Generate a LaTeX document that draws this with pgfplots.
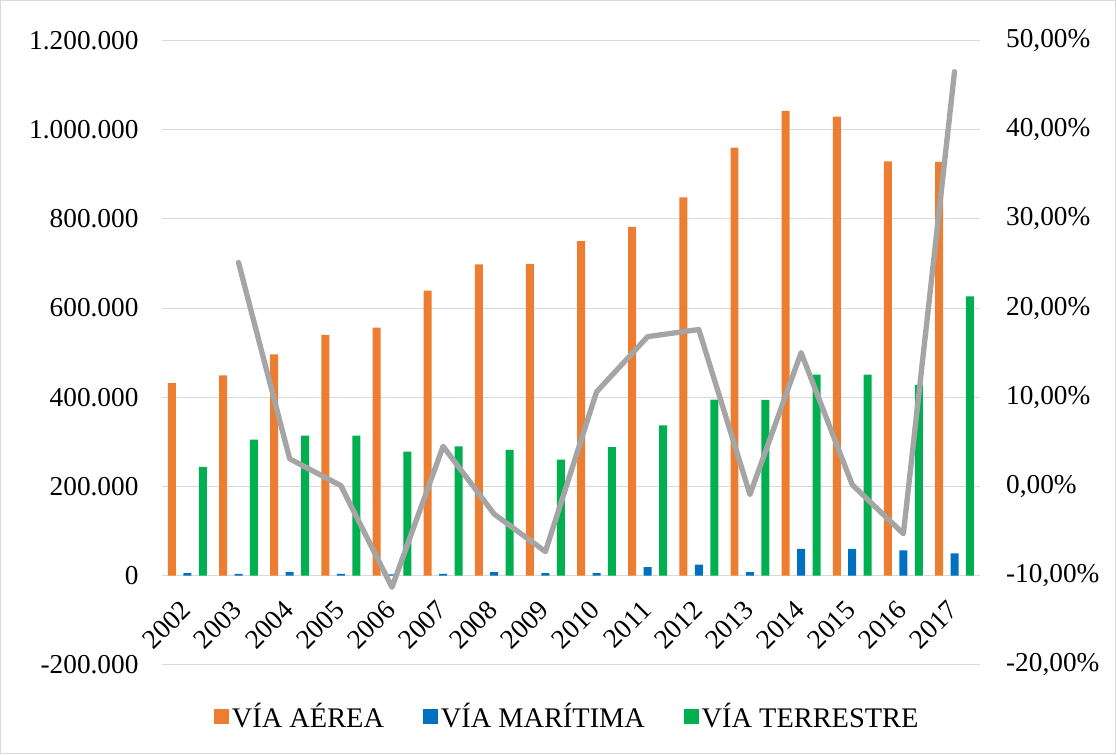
\documentclass[border=0pt]{standalone}
\usepackage{fontspec}
\setmainfont{Liberation Serif}
\usepackage{pgfplots}
\pgfplotsset{compat=1.18}

\definecolor{aerea}{HTML}{ED7D31}
\definecolor{maritima}{HTML}{0070C0}
\definecolor{terrestre}{HTML}{00B050}
\definecolor{tasa}{HTML}{A5A5A5}
\definecolor{rejilla}{HTML}{D9D9D9}

\newcommand{\fs}{\fontsize{20.5}{24}\selectfont}
\newcommand{\fl}{\fontsize{21.3}{25}\selectfont}

\begin{document}
\begin{tikzpicture}
\draw[rejilla, line width=0.75pt] (0,0) rectangle (837pt,565.5pt);

\begin{axis}[
    at={(121.1pt,66.75pt)}, anchor=south west,
    scale only axis, width=614.25pt, height=468.75pt,
    xmin=-0.5, xmax=15.5,
    ymin=-200000, ymax=1200000,
    axis x line=middle, axis y line=left,
    hide obscured x ticks=false, hide obscured y ticks=false,
    x axis line style={draw=rejilla, line width=0.75pt, -},
    y axis line style={draw=none},
    major tick length=0pt,
    xtick={0,...,15},
    xticklabels={2002,2003,2004,2005,2006,2007,2008,2009,2010,2011,2012,2013,2014,2015,2016,2017},
    xticklabel style={font=\fs, xshift=1.5pt, yshift=-20pt, rotate=45, anchor=east},
    ytick={-200000,0,200000,400000,600000,800000,1000000,1200000},
    scaled y ticks=false,
    /pgf/number format/assume math mode=true,
    yticklabel={\pgfmathprintnumber[fixed,precision=0,1000 sep={.}]{\tick}},
    yticklabel style={font=\fs, xshift=-14pt},
    ymajorgrids, grid style={rejilla, line width=0.75pt},
    legend columns=3,
    legend style={at={(0.5,-0.083)}, anchor=center, xshift=-2.6pt, draw=none, fill=none,
        font=\fl, /tikz/every even column/.append style={column sep=27pt}},
]
\addplot[ybar, bar width=6pt, bar shift=-11.6pt, fill=aerea, draw=none,
    legend image code/.code={\fill[aerea] (0pt,-5.8pt) rectangle (11.6pt,5.8pt);}]
    coordinates {(0,432000) (1,449000) (2,496000) (3,540000) (4,556000) (5,639000) (6,698000) (7,699000)
                 (8,750000) (9,782000) (10,848000) (11,960000) (12,1042000) (13,1029000) (14,929000) (15,928000)};
\addplot[ybar, bar width=6pt, bar shift=0pt, fill=maritima, draw=none,
    legend image code/.code={\fill[maritima] (0pt,-5.8pt) rectangle (11.6pt,5.8pt);}]
    coordinates {(0,6000) (1,4000) (2,8000) (3,4000) (4,3000) (5,4000) (6,8000) (7,6000)
                 (8,6000) (9,19000) (10,25000) (11,8000) (12,60000) (13,60000) (14,57000) (15,50000)};
\addplot[ybar, bar width=6pt, bar shift=11.6pt, fill=terrestre, draw=none,
    legend image code/.code={\fill[terrestre] (0pt,-5.8pt) rectangle (11.6pt,5.8pt);}]
    coordinates {(0,244000) (1,305000) (2,314000) (3,314000) (4,278000) (5,290000) (6,282000) (7,260000)
                 (8,288000) (9,337000) (10,395000) (11,394000) (12,451000) (13,451000) (14,428000) (15,626000)};
\legend{VÍA AÉREA, VÍA MARÍTIMA, VÍA TERRESTRE}
\end{axis}

\begin{axis}[
    at={(121.1pt,66.75pt)}, anchor=south west,
    scale only axis, width=614.25pt, height=468.75pt,
    xmin=-0.5, xmax=15.5,
    ymin=-20, ymax=50,
    axis x line=none, axis y line*=right,
    y axis line style={draw=none},
    major tick length=0pt,
    ytick={-20,-10,0,10,20,30,40,50},
    /pgf/number format/assume math mode=true,
    yticklabel={\pgfmathprintnumber[fixed,fixed zerofill,precision=2,use comma]{\tick}\%},
    yticklabel style={font=\fs, xshift=16pt},
]
\addplot[tasa, line width=4pt, line join=round, line cap=round]
    coordinates {(1,25.1) (2,3.1) (3,0.1) (4,-11.3) (5,4.5) (6,-3.1) (7,-7.3) (8,10.6)
                 (9,16.8) (10,17.6) (11,-0.9) (12,15.0) (13,0.2) (14,-5.3) (15,46.5)};
\end{axis}
\end{tikzpicture}
\end{document}
